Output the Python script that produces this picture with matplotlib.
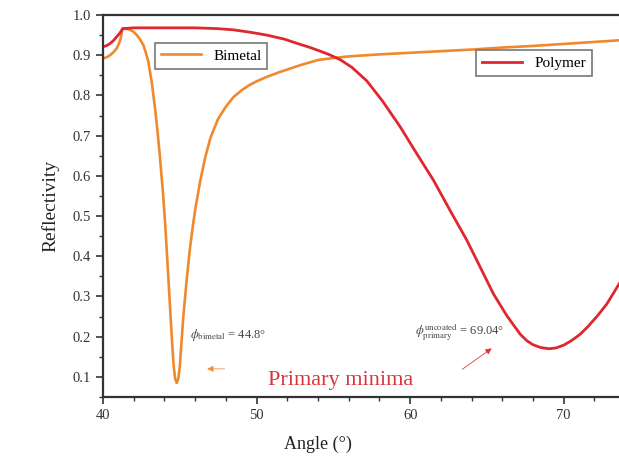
import numpy as np
import matplotlib
matplotlib.use("Agg")
import matplotlib.pyplot as plt
from matplotlib.ticker import MultipleLocator

plt.rcParams["font.family"] = ["Liberation Serif", "DejaVu Serif"]
plt.rcParams["mathtext.fontset"] = "stix"

# Reflectivity vs incidence angle
bimetal_angle = [40.0, 40.25, 40.46, 40.7, 40.89, 41.05, 41.15, 41.28, 41.5,
                 41.76, 42.0, 42.2, 42.4, 42.63, 42.8, 42.95, 43.17, 43.39,
                 43.54, 43.7, 43.9, 44.05, 44.25, 44.4, 44.5, 44.6, 44.7, 44.8,
                 44.9, 45.0, 45.1, 45.23, 45.45, 45.67, 45.85, 46.0, 46.32,
                 46.65, 47.0, 47.5, 48.0, 48.5, 49.0, 49.5, 50.0, 50.66, 51.5,
                 52.2, 52.83, 54.0, 55.0, 56.0, 58.0, 60.0, 62.0, 64.0, 66.0,
                 68.0, 70.0, 72.0, 74.0]
bimetal_refl = [0.892, 0.895, 0.900, 0.908, 0.917, 0.930, 0.942, 0.966, 0.966,
                0.963, 0.958, 0.950, 0.940, 0.925, 0.905, 0.884, 0.834, 0.767,
                0.715, 0.650, 0.560, 0.480, 0.350, 0.250, 0.185, 0.128, 0.095,
                0.085, 0.095, 0.125, 0.180, 0.250, 0.342, 0.422, 0.475, 0.515,
                0.585, 0.645, 0.695, 0.742, 0.772, 0.796, 0.812, 0.825, 0.835,
                0.846, 0.858, 0.867, 0.875, 0.888, 0.893, 0.897, 0.902, 0.906,
                0.910, 0.914, 0.919, 0.923, 0.928, 0.933, 0.938]

polymer_angle = [40.0, 40.25, 40.46, 40.7, 40.89, 41.1, 41.28, 42.0, 44.0,
                 46.0, 47.5, 48.5, 49.6, 50.66, 51.8, 52.83, 53.5, 54.0, 54.7,
                 55.44, 56.2, 57.18, 58.2, 59.35, 60.4, 61.52, 62.6, 63.69,
                 64.6, 65.43, 66.3, 67.17, 67.6, 68.0, 68.5, 69.04, 69.5, 70.0,
                 70.5, 71.07, 71.6, 72.2, 72.8, 73.3, 73.6, 74.0]
polymer_refl = [0.921, 0.924, 0.929, 0.937, 0.946, 0.955, 0.966, 0.968, 0.968,
                0.968, 0.966, 0.963, 0.957, 0.950, 0.940, 0.927, 0.919, 0.912,
                0.902, 0.889, 0.870, 0.836, 0.786, 0.722, 0.657, 0.589, 0.514,
                0.440, 0.370, 0.306, 0.252, 0.206, 0.190, 0.180, 0.173, 0.170,
                0.172, 0.179, 0.190, 0.206, 0.226, 0.252, 0.281, 0.312, 0.331,
                0.355]

bimetal_min_angle = 44.8
polymer_min_angle = 69.04

ORANGE = "#f0892e"
RED = "#e0262e"
GREY = "#444444"

fig = plt.figure(figsize=(6.19, 4.61), dpi=100)
ax = fig.add_axes([0.1664, 0.1388, 0.8336, 0.8287])

ax.plot(bimetal_angle, bimetal_refl, color=ORANGE, lw=1.9, label="Bimetal")
ax.plot(polymer_angle, polymer_refl, color=RED, lw=2.0, label="Polymer")

ax.set_xlim(40, 73.6)
ax.set_ylim(0.05, 1.0)
ax.xaxis.set_major_locator(MultipleLocator(10))
ax.xaxis.set_minor_locator(MultipleLocator(2))
ax.yaxis.set_major_locator(MultipleLocator(0.1))
ax.yaxis.set_minor_locator(MultipleLocator(0.05))
ax.yaxis.set_major_formatter(plt.FuncFormatter(lambda v, p: f"{v:.1f}"))
ax.tick_params(which="major", direction="out", length=5, width=1.2,
               labelsize=10.5, colors="#333333")
ax.tick_params(which="minor", direction="out", length=3, width=1.0,
               colors="#333333")
for side in ["left", "bottom", "top"]:
    ax.spines[side].set_linewidth(1.6)
    ax.spines[side].set_color("#333333")
ax.spines["right"].set_visible(False)

ax.set_xlabel("Angle (°)", fontsize=13, color="#222222")
ax.xaxis.set_label_coords(0.4167, -0.1)
ax.set_ylabel("Reflectivity", fontsize=14, color="#222222", labelpad=10)

# separate legend boxes for each curve
lines = ax.get_lines()
leg1 = ax.legend([lines[0]], ["Bimetal"], loc="upper left",
                 bbox_to_anchor=(0.1008, 0.927), borderaxespad=0,
                 fancybox=False, edgecolor="#777777", fontsize=11,
                 handlelength=2.6, framealpha=1)
leg1.get_frame().set_linewidth(1.2)
ax.add_artist(leg1)
leg2 = ax.legend([lines[1]], ["Polymer"], loc="upper left",
                 bbox_to_anchor=(0.7229, 0.908), borderaxespad=0,
                 fancybox=False, edgecolor="#777777", fontsize=11,
                 handlelength=2.6, framealpha=1)
leg2.get_frame().set_linewidth(1.2)

# annotations for the resonance minima
ax.text(45.67, 0.204,
        r"$\phi_{\mathrm{bimetal}}$" + f" = {bimetal_min_angle}°",
        fontsize=9, color=GREY, va="center", ha="left")
ax.text(60.33, 0.211,
        r"$\phi^{\mathrm{uncoated}}_{\mathrm{primary}}$" + f" = {polymer_min_angle}°",
        fontsize=9, color=GREY, va="center", ha="left")

ax.annotate("", xy=(46.6, 0.12), xytext=(48.1, 0.12),
            arrowprops=dict(arrowstyle="-|>", color=ORANGE, lw=0.6,
                            mutation_scale=9, alpha=0.9))
ax.annotate("", xy=(65.46, 0.175), xytext=(63.25, 0.115),
            arrowprops=dict(arrowstyle="-|>", color=RED, lw=0.6,
                            mutation_scale=9, alpha=0.9))

ax.text(55.5, 0.092, "Primary minima", fontsize=16, color="#d9343a",
        ha="center", va="center")

fig.savefig("out.png", dpi=100)
